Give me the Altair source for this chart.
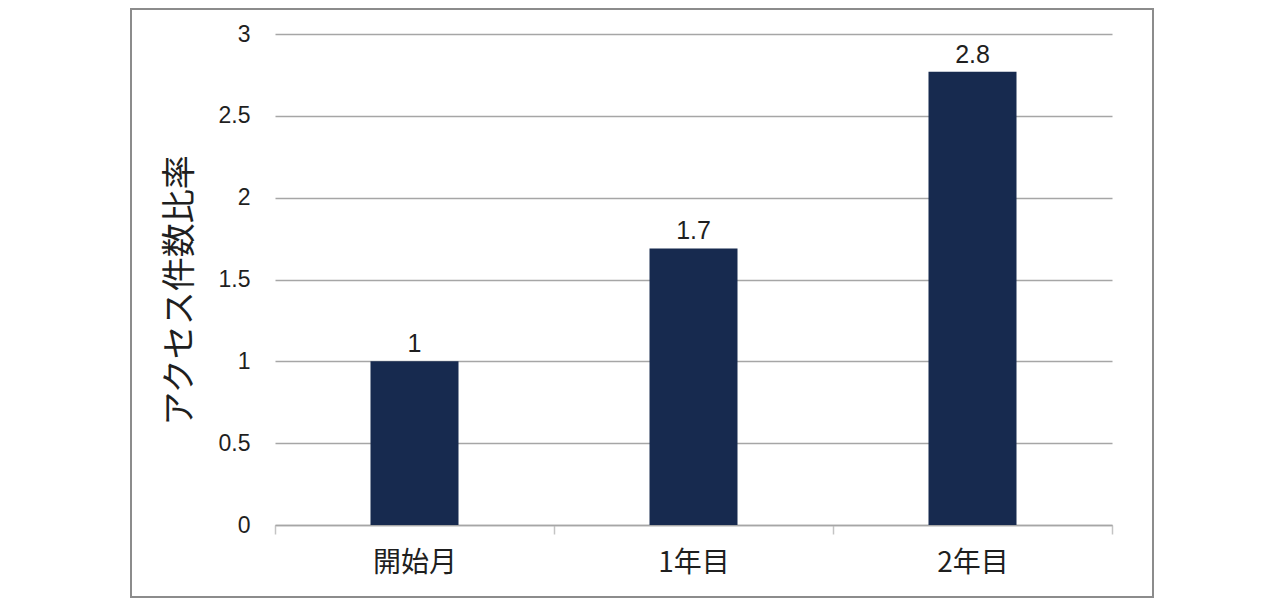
import altair as alt
import pandas as pd

categories = ["開始月", "1年目", "2年目"]
values = [1.0, 1.69, 2.77]
value_labels = ["1", "1.7", "2.8"]

df = pd.DataFrame({"cat": categories, "val": values, "lab": value_labels})

BAR = "#172A4F"
GRID = "#A6A6A6"
TXT = "#1F1F1F"
NUM_FONT = "Liberation Sans"
CJK_FONT = "Noto Sans CJK JP"

x_axis = alt.Axis(
    labelAngle=0,
    labelFont=CJK_FONT,
    labelFontSize=28,
    labelColor=TXT,
    labelBaseline="middle",
    labelPadding=29,
    ticks=True,
    tickBand="extent",
    tickSize=9,
    tickColor="#C4C4C4",
    tickWidth=1.5,
    domainColor=GRID,
    domainWidth=1.5,
    grid=False,
)

x_enc = alt.X(
    "cat:N",
    sort=categories,
    title=None,
    scale=alt.Scale(paddingInner=0, paddingOuter=0),
    axis=x_axis,
)

y_enc = alt.Y(
    "val:Q",
    scale=alt.Scale(domain=[0, 3], nice=False),
    axis=alt.Axis(
        values=[0, 0.5, 1, 1.5, 2, 2.5, 3],
        format="~g",
        labelFont=NUM_FONT,
        labelFontSize=23,
        labelColor=TXT,
        labelPadding=25,
        ticks=False,
        domain=False,
        gridColor=GRID,
        gridWidth=1.5,
        title="アクセス件数比率",
        titleFont=CJK_FONT,
        titleFontSize=34,
        titleFontWeight="normal",
        titleColor=TXT,
        titleAngle=-90,
        titleAlign="center",
        titleBaseline="middle",
        titleX=-95,
        titleY=256,
    ),
)

bars = alt.Chart(df).mark_bar(color=BAR, size=88).encode(x=x_enc, y=y_enc)

labels = alt.Chart(df).mark_text(
    font=NUM_FONT, fontSize=25, color=TXT, baseline="alphabetic", dy=-9
).encode(x=alt.X("cat:N", sort=categories, axis=x_axis), y="val:Q", text="lab:N")

frame = alt.Chart(df).mark_rect(
    fill=None, stroke="#8C8C8C", strokeWidth=2, clip=False
).encode(
    x=alt.value(-144), x2=alt.value(878), y=alt.value(-25), y2=alt.value(563)
)

chart = (
    alt.layer(frame, bars, labels)
    .properties(
        width=837,
        height=491,
        padding={"left": 267, "top": 26, "right": 150, "bottom": 74},
        autosize=alt.AutoSizeParams(type="none"),
    )
    .configure_view(stroke=None)
)

chart.save("out.html", embed_options={"renderer": "svg", "actions": False})
